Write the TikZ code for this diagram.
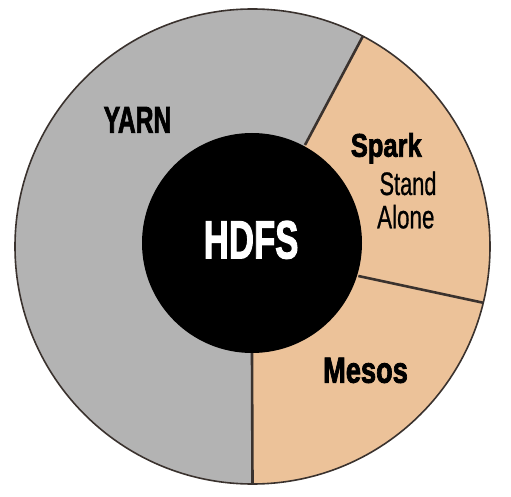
\documentclass[tikz,border=0pt]{standalone}
\usepackage{fontspec}
\setmainfont{Liberation Sans}
\newfontfamily\heavyfont[FakeBold=2.5]{Liberation Sans Bold}
\newfontfamily\mediumfont[FakeBold=0.8]{Liberation Sans}
\usepackage{graphicx}
\usetikzlibrary{calc}
\definecolor{ringgray}{RGB}{179,179,179}
\definecolor{peach}{RGB}{236,194,153}
\definecolor{rim}{RGB}{58,50,46}
% condensed label: #1 = horizontal squeeze, #2 = text
\newcommand{\condtxt}[2]{\scalebox{#1}[1]{#2}}
\begin{document}
\begin{tikzpicture}[x=1pt,y=1pt,
  divider/.style={draw=rim,line width=2.6pt},
  ringlabel/.style={inner sep=0pt,anchor=base,text=black},
]
\useasboundingbox (0,0) rectangle (511,496);

% centres of the outer ring and of the hub
\coordinate (oc) at (252.5,249.5);
\coordinate (ic) at (252,253);

% sector boundary points: inner ends and rim ends
\coordinate (topin)  at (305,351);
\coordinate (topout) at ([shift={(62.3:237.5)}]oc);
\coordinate (rgtin)  at (358.3,220);
\coordinate (rgtout) at ([shift={(-13.7:237.5)}]oc);
\coordinate (botin)  at (252,143);
\coordinate (botout) at ([shift={(-90:237.5)}]oc);

% ring: grey base, peach sectors on the right
\fill[ringgray] (oc) circle[radius=237.5];
\fill[peach] (ic) -- (topin) -- (topout)
  arc[start angle=62.3,end angle=-90,radius=237.5] -- cycle;

% sector dividers
\draw[divider] (topin) -- (topout);
\draw[divider] (rgtin) -- (rgtout);
\draw[divider] (botin) -- (botout);

% outer rim
\draw[rim,line width=1.6pt] (oc) circle[radius=237.5];

% hub
\node[circle,fill=black,minimum size=220pt,inner sep=0pt] (hub) at (ic) {};

% labels
\node[ringlabel,font=\heavyfont\fontsize{37.3}{37.3}\selectfont] (yarn) at (137.5,363.3) {\condtxt{0.66}{YARN}};
\node[ringlabel,font=\heavyfont\fontsize{32.7}{32.7}\selectfont] (spark) at (386.3,339.3) {\condtxt{0.78}{Spark}};
\node[ringlabel,font=\mediumfont\fontsize{32.5}{32.5}\selectfont] (stand) at (408,301) {\condtxt{0.67}{Stand}};
\node[ringlabel,font=\mediumfont\fontsize{32.5}{32.5}\selectfont] (alone) at (405.8,267.7) {\condtxt{0.69}{Alone}};
\node[ringlabel,font=\heavyfont\fontsize{36.3}{36.3}\selectfont] (mesos) at (365.5,113.3) {\condtxt{0.75}{Mesos}};
\node[ringlabel,text=white,font=\heavyfont\fontsize{53.5}{53.5}\selectfont] (hdfs) at (251.1,237.7) {\condtxt{0.65}{HDFS}};
\end{tikzpicture}
\end{document}
